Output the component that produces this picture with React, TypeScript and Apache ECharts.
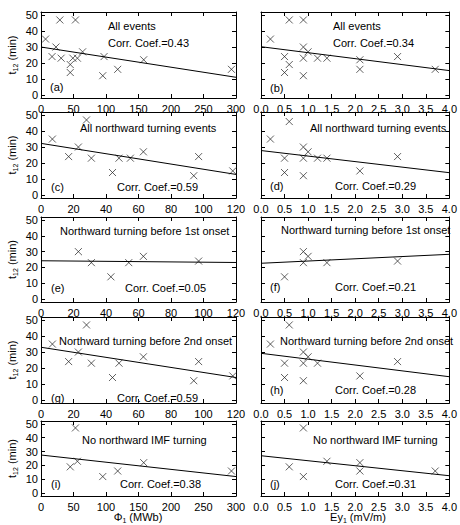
import React, { useEffect, useRef } from 'react';
import * as echarts from 'echarts';

// ---- data ----
const phiA = [7, 29, 53, 23, 17, 31, 45, 45, 49, 56, 64, 97, 95, 118, 158, 293];
const tA = [35, 47, 47, 30, 24, 23, 19, 14, 23, 23, 27, 24, 12, 16, 22, 16];
const fitA = [[0, 30], [300, 11]];

const eyB = [0.2, 0.6, 0.9, 0.9, 1.0, 0.5, 0.6, 0.5, 0.9, 0.9, 1.2, 1.4, 2.1, 2.1, 2.9, 3.7];
const tB = [35, 47, 47, 30, 27, 24, 19, 14, 23, 12, 23, 23, 22, 16, 24, 16];
const fitB = [[0, 30.2], [4, 15.2]];

const phiC = [7, 28, 23, 17, 31, 44, 48, 55, 63, 97, 94, 118];
const tC = [35, 47, 30, 24, 23, 14, 23, 23, 27, 24, 12, 15];
const fitC = [[0, 32.3], [120, 12.8]];

const eyD = [0.2, 0.6, 0.9, 1.0, 0.5, 0.9, 1.2, 1.4, 0.5, 0.9, 2.1, 2.9];
const tD = [35, 46, 30, 27, 23, 23, 23, 23, 14, 12, 15, 24];
const fitD = [[0, 27.8], [4, 13.9]];

const phiE = [23, 31, 43, 54, 63, 97];
const tE = [30, 23, 14, 23, 27, 24];
const fitE = [[0, 24.2], [120, 23.1]];

const eyF = [0.9, 1.0, 0.9, 1.4, 0.5, 2.9];
const tF = [30, 27, 23, 23, 14, 24];
const fitF = [[0, 22.6], [4, 28.3]];

const phiG = [7, 28, 23, 17, 31, 44, 48, 63, 97, 94, 118];
const tG = [35, 47, 30, 24, 23, 14, 23, 27, 24, 12, 15];
const fitG = [[0, 33], [120, 14]];

const eyH = [0.2, 0.6, 0.9, 1.0, 0.5, 0.9, 1.2, 0.5, 0.9, 2.1, 2.9];
const tH = [35, 47, 30, 27, 23, 23, 23, 14, 12, 15, 24];
const fitH = [[0, 29.2], [4, 14.5]];

const phiI = [53, 45, 56, 95, 118, 158, 293];
const tI = [47, 19, 23, 12, 16, 22, 16];
const fitI = [[0, 27.5], [300, 12]];

const eyJ = [0.9, 0.6, 1.4, 0.9, 2.1, 2.1, 3.7];
const tJ = [47, 19, 23, 12, 16, 22, 16];
const fitJ = [[0, 27], [4, 12.6]];

const phiTicks300 = [0, 50, 100, 150, 200, 250, 300];
const phiTicks120 = [0, 20, 40, 60, 80, 100, 120];
const eyTicks = [0, 0.5, 1.0, 1.5, 2.0, 2.5, 3.0, 3.5, 4.0];
const tTicks = [0, 10, 20, 30, 40, 50];

const panelTitles = [
  'All events', 'All events',
  'All northward turning events', 'All northward turning events',
  'Northward turning before 1st onset', 'Northward turning before 1st onset',
  'Northward turning before 2nd onset', 'Northward turning before 2nd onset',
  'No northward IMF turning', 'No northward IMF turning',
];
const corrLabels = [
  'Corr. Coef.=0.43', 'Corr. Coef.=0.34',
  'Corr. Coef.=0.59', 'Corr. Coef.=0.29',
  'Corr. Coef.=0.05', 'Corr. Coef.=0.21',
  'Corr. Coef.=0.59', 'Corr. Coef.=0.28',
  'Corr. Coef.=0.38', 'Corr. Coef.=0.31',
];
const panelTags = ['(a)', '(b)', '(c)', '(d)', '(e)', '(f)', '(g)', '(h)', '(i)', '(j)'];

// ---- layout ----
const FONT = "'Liberation Sans', Arial, Helvetica, sans-serif";
const ROWS = [
  { top: 12, height: 86 },
  { top: 112, height: 86 },
  { top: 217, height: 85 },
  { top: 317, height: 86 },
  { top: 421, height: 75 },
];
const COLS = [
  { left: 41, width: 195 },
  { left: 261, width: 194 },
];
const ANNOT = [
  { title: [108, 26], corr: [108, 43], tag: [50, 87] },
  { title: [333, 26], corr: [333, 43], tag: [270, 88] },
  { title: [80, 128], corr: [117, 187], tag: [51, 187] },
  { title: [310, 128], corr: [335, 186], tag: [270, 186] },
  { title: [60, 231], corr: [125, 288], tag: [51, 288] },
  { title: [281, 230], corr: [335, 287], tag: [270, 287] },
  { title: [59, 341], corr: [117, 398], tag: [51, 398] },
  { title: [280, 341], corr: [335, 390], tag: [270, 390] },
  { title: [82, 440], corr: [120, 484], tag: [51, 484] },
  { title: [313, 440], corr: [335, 484], tag: [270, 484] },
];

const panels = [
  { x: phiA, y: tA, fit: fitA, max: 300, ticks: phiTicks300, ey: false },
  { x: eyB, y: tB, fit: fitB, max: 4, ticks: eyTicks, ey: true },
  { x: phiC, y: tC, fit: fitC, max: 120, ticks: phiTicks120, ey: false },
  { x: eyD, y: tD, fit: fitD, max: 4, ticks: eyTicks, ey: true },
  { x: phiE, y: tE, fit: fitE, max: 120, ticks: phiTicks120, ey: false },
  { x: eyF, y: tF, fit: fitF, max: 4, ticks: eyTicks, ey: true },
  { x: phiG, y: tG, fit: fitG, max: 120, ticks: phiTicks120, ey: false },
  { x: eyH, y: tH, fit: fitH, max: 4, ticks: eyTicks, ey: true },
  { x: phiI, y: tI, fit: fitI, max: 300, ticks: phiTicks300, ey: false },
  { x: eyJ, y: tJ, fit: fitJ, max: 4, ticks: eyTicks, ey: true },
];

const lineStyle = { color: '#000', width: 1 };

function buildOption() {
  const grid: any[] = [];
  const xAxis: any[] = [];
  const yAxis: any[] = [];
  const series: any[] = [];
  const graphic: any[] = [];

  panels.forEach((p, k) => {
    const row = ROWS[Math.floor(k / 2)];
    const col = COLS[k % 2];
    grid.push({ left: col.left, top: row.top, width: col.width, height: row.height, containLabel: false });
    const tick = { show: true, inside: true, length: 4, lineStyle, customValues: p.ticks };
    const fmt = (v: number) => (p.ey ? v.toFixed(1) : String(Math.round(v)));
    xAxis.push({
      type: 'value', gridIndex: k, min: 0, max: p.max, position: 'bottom',
      axisLine: { show: true, onZero: false, lineStyle },
      axisTick: tick,
      axisLabel: { show: true, customValues: p.ticks, formatter: fmt, color: '#000', fontSize: 11, fontFamily: FONT, margin: 5, hideOverlap: false },
      splitLine: { show: false },
    });
    xAxis.push({
      type: 'value', gridIndex: k, min: 0, max: p.max, position: 'top',
      axisLine: { show: true, onZero: false, lineStyle },
      axisTick: tick,
      axisLabel: { show: false },
      splitLine: { show: false },
    });
    const ytick = { show: true, inside: true, length: 4, lineStyle, customValues: tTicks };
    yAxis.push({
      type: 'value', gridIndex: k, min: -2, max: 52, position: 'left',
      axisLine: { show: true, onZero: false, lineStyle },
      axisTick: ytick,
      axisLabel: { show: k % 2 === 0, customValues: tTicks, color: '#000', fontSize: 11, fontFamily: FONT, margin: 3 },
      splitLine: { show: false },
    });
    yAxis.push({
      type: 'value', gridIndex: k, min: -2, max: 52, position: 'right',
      axisLine: { show: true, onZero: false, lineStyle },
      axisTick: ytick,
      axisLabel: { show: false },
      splitLine: { show: false },
    });
    series.push({
      type: 'scatter', xAxisIndex: 2 * k, yAxisIndex: 2 * k,
      data: p.x.map((v, i) => [v, p.y[i]]),
      symbol: 'path://M0,0L10,10M10,0L0,10',
      symbolSize: 7,
      itemStyle: { color: 'rgba(0,0,0,0)', borderColor: '#222', borderWidth: 0.9 },
      clip: false,
    });
    series.push({
      type: 'line', xAxisIndex: 2 * k, yAxisIndex: 2 * k,
      data: p.fit, symbol: 'none', lineStyle: { color: '#000', width: 1 },
    });

    const a = ANNOT[k];
    const txt = (s: string, pos: number[]) => ({
      type: 'text', x: pos[0], y: pos[1],
      style: { text: s, fill: '#000', font: `11px ${FONT}`, align: 'left', verticalAlign: 'middle' },
    });
    graphic.push(txt(panelTitles[k], a.title));
    graphic.push(txt(corrLabels[k], a.corr));
    graphic.push(txt(panelTags[k], a.tag));

    if (k % 2 === 0) {
      graphic.push({
        type: 'text', x: 12, y: row.top + row.height * 0.5, rotation: Math.PI / 2,
        style: {
          text: '{t|t}{s|12}{t| (min)}',
          align: 'center', verticalAlign: 'middle', fill: '#000',
          rich: {
            t: { fontSize: 11, fontFamily: FONT, fill: '#000', lineHeight: 14, verticalAlign: 'middle' },
            s: { fontSize: 7, fontFamily: FONT, fill: '#000', lineHeight: 14, verticalAlign: 'bottom', padding: [5, 0, 0, 0] },
          },
        },
      });
    }
  });

  // x-axis titles
  graphic.push({
    type: 'text', x: 138, y: 517,
    style: {
      text: '{t|Φ}{s|1}{t| (MWb)}', align: 'center', verticalAlign: 'middle', fill: '#000',
      rich: {
        t: { fontSize: 11, fontFamily: FONT, fill: '#000', lineHeight: 14, verticalAlign: 'middle' },
        s: { fontSize: 7, fontFamily: FONT, fill: '#000', lineHeight: 14, verticalAlign: 'bottom', padding: [5, 0, 0, 0] },
      },
    },
  });
  graphic.push({
    type: 'text', x: 358, y: 517,
    style: {
      text: '{t|Ey}{s|1}{t| (mV/m)}', align: 'center', verticalAlign: 'middle', fill: '#000',
      rich: {
        t: { fontSize: 11, fontFamily: FONT, fill: '#000', lineHeight: 14, verticalAlign: 'middle' },
        s: { fontSize: 7, fontFamily: FONT, fill: '#000', lineHeight: 14, verticalAlign: 'bottom', padding: [5, 0, 0, 0] },
      },
    },
  });

  return {
    animation: false,
    backgroundColor: '#fff',
    grid, xAxis, yAxis, series, graphic,
  };
}

export default function App() {
  const ref = useRef<HTMLDivElement>(null);
  useEffect(() => {
    if (!ref.current) return;
    const chart = echarts.init(ref.current, undefined, { renderer: 'svg' });
    chart.setOption(buildOption() as any);
    return () => chart.dispose();
  }, []);
  return <div ref={ref} style={{ position: 'absolute', left: 0, top: 0, width: 460, height: 525 }} />;
}
